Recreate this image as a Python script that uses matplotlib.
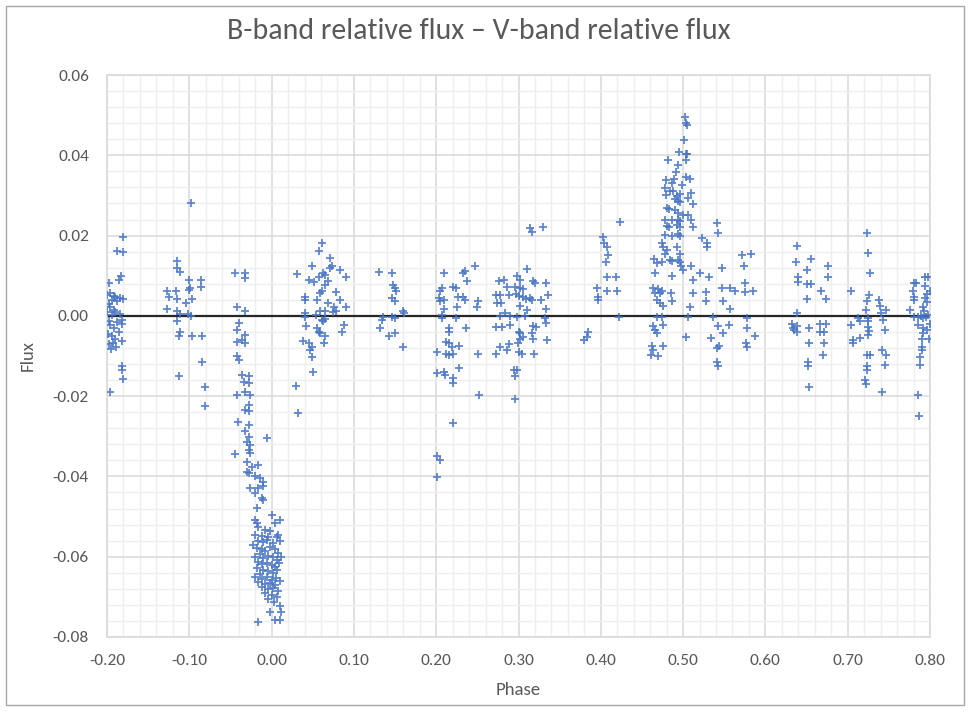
import matplotlib
matplotlib.use("Agg")
import matplotlib.pyplot as plt
from matplotlib.ticker import MultipleLocator, FormatStrFormatter
from matplotlib.patches import Rectangle

plt.rcParams['font.family'] = ['Liberation Sans Narrow', 'Carlito', 'Open Sans', 'DejaVu Sans']

TITLE = "B-band relative flux – V-band relative flux"
XLABEL = "Phase"
YLABEL = "Flux"
x_ticks = [-0.20, -0.10, 0.00, 0.10, 0.20, 0.30, 0.40, 0.50, 0.60, 0.70, 0.80]
y_ticks = [-0.08, -0.06, -0.04, -0.02, 0.00, 0.02, 0.04, 0.06]

# (phase, flux) pairs per observing cluster
cluster_a = [(-0.180, 0.0197), (-0.181, 0.0158), (-0.188, 0.0162), (-0.183, 0.0100), (-0.185, 0.0090),
             (-0.198, 0.0081), (-0.200, 0.0052), (-0.196, 0.0056), (-0.192, 0.0050), (-0.194, 0.0040),
             (-0.198, 0.0030), (-0.190, 0.0046), (-0.188, 0.0036), (-0.196, 0.0022), (-0.192, 0.0015),
             (-0.184, 0.0044), (-0.181, 0.0042), (-0.200, 0.0010), (-0.194, 0.0003), (-0.190, 0.0010),
             (-0.184, 0.0005), (-0.198, -0.0012), (-0.196, -0.0022), (-0.192, -0.0030), (-0.188, -0.0016),
             (-0.182, -0.0010), (-0.199, -0.0045), (-0.194, -0.0050), (-0.190, -0.0058), (-0.186, -0.0040),
             (-0.182, -0.0062), (-0.198, -0.0070), (-0.193, -0.0068), (-0.189, -0.0078), (-0.182, -0.0125),
             (-0.182, -0.0135), (-0.181, -0.0157), (-0.196, -0.0189), (-0.182, -0.0020), (-0.195, -0.0082)]

cluster_b = [(-0.098, 0.0280), (-0.115, 0.0137), (-0.115, 0.0120), (-0.111, 0.0110), (-0.100, 0.0090),
             (-0.086, 0.0090), (-0.086, 0.0071), (-0.100, 0.0065), (-0.099, 0.0069), (-0.116, 0.0063),
             (-0.127, 0.0061), (-0.125, 0.0047), (-0.115, 0.0042), (-0.097, 0.0042), (-0.104, 0.0033),
             (-0.127, 0.0017), (-0.115, 0.0011), (-0.111, 0.0005), (-0.101, 0.0005), (-0.098, 0.0000),
             (-0.115, -0.0013), (-0.111, -0.0039), (-0.113, -0.0050), (-0.097, -0.0049), (-0.084, -0.0049),
             (-0.084, -0.0116), (-0.112, -0.0151), (-0.081, -0.0178), (-0.081, -0.0224)]

cluster_c = [(-0.0445, 0.0106), (-0.0323, 0.0106), (-0.0323, 0.0094), (-0.0424, 0.0021), (-0.0323, 0.0012),
             (-0.040, -0.0018), (-0.042, -0.0035), (-0.032, -0.0047), (-0.036, -0.0060), (-0.042, -0.0064),
             (-0.032, -0.0068), (-0.042, -0.0101), (-0.040, -0.0110), (-0.036, -0.0147), (-0.028, -0.0151),
             (-0.034, -0.0164), (-0.028, -0.0168), (-0.042, -0.0197), (-0.032, -0.0189), (-0.026, -0.0197),
             (-0.028, -0.0222), (-0.032, -0.0234), (-0.028, -0.0238), (-0.041, -0.0264), (-0.028, -0.0272),
             (-0.006, -0.0305), (-0.032, -0.0288), (-0.028, -0.0301), (-0.030, -0.0313), (-0.026, -0.0322),
             (-0.028, -0.0334), (-0.026, -0.0342), (-0.0445, -0.0344), (-0.030, -0.0363), (-0.016, -0.0371),
             (-0.024, -0.0376), (-0.030, -0.0388), (-0.028, -0.0392), (-0.020, -0.0400), (-0.014, -0.0404),
             (-0.010, -0.0413), (-0.010, -0.0425), (-0.026, -0.0429), (-0.016, -0.0429), (-0.012, -0.0454),
             (-0.018, -0.0479), (-0.020, -0.0442), (-0.010, -0.0458), (-0.020, -0.0508),
             (-0.018, -0.0517), (-0.016, -0.0525), (-0.008, -0.0533), (-0.002, -0.0537), (0.006, -0.0550),
             (0.000, -0.0496), (0.010, -0.0508), (0.004, -0.0515), (-0.020, -0.0545), (-0.012, -0.0548),
             (-0.004, -0.0552), (0.008, -0.0545), (-0.016, -0.0560), (-0.010, -0.0563), (-0.006, -0.0558),
             (0.002, -0.0565), (0.010, -0.0560), (-0.022, -0.0570), (-0.018, -0.0578), (-0.012, -0.0580),
             (-0.008, -0.0585), (-0.002, -0.0575), (0.004, -0.0582), (0.008, -0.0590), (-0.014, -0.0592),
             (-0.020, -0.0600), (-0.010, -0.0603), (-0.004, -0.0597), (0.002, -0.0600), (0.006, -0.0607),
             (0.011, -0.0600), (-0.016, -0.0612), (-0.012, -0.0618), (-0.006, -0.0615), (0.000, -0.0620),
             (0.004, -0.0625), (0.009, -0.0615), (-0.018, -0.0628), (-0.010, -0.0632), (-0.004, -0.0635),
             (0.002, -0.0640), (0.007, -0.0632), (-0.014, -0.0642), (-0.020, -0.0650), (-0.012, -0.0655),
             (-0.006, -0.0650), (0.000, -0.0658), (0.005, -0.0652), (0.010, -0.0660), (-0.016, -0.0662),
             (-0.008, -0.0668), (-0.002, -0.0665), (0.004, -0.0670), (-0.012, -0.0675), (-0.004, -0.0680),
             (0.002, -0.0678), (0.008, -0.0685), (-0.008, -0.0690), (0.000, -0.0695), (0.006, -0.0700),
             (-0.004, -0.0705), (0.003, -0.0712), (0.010, -0.0724), (-0.002, -0.0737), (-0.016, -0.0762),
             (0.004, -0.0757), (0.010, -0.0757), (0.012, -0.0738)]

cluster_d = [(0.061, 0.0181), (0.058, 0.0162), (0.071, 0.0143), (0.073, 0.0123), (0.071, 0.0119),
             (0.049, 0.0123), (0.083, 0.0114), (0.031, 0.0104), (0.062, 0.0106), (0.065, 0.0102),
             (0.058, 0.0096), (0.090, 0.0096), (0.045, 0.0090), (0.051, 0.0085), (0.069, 0.0088),
             (0.065, 0.0077), (0.061, 0.0062), (0.059, 0.0058), (0.078, 0.0060), (0.041, 0.0047),
             (0.041, 0.0039), (0.055, 0.0040), (0.083, 0.0040), (0.069, 0.0032), (0.076, 0.0022),
             (0.078, 0.0012), (0.075, 0.0009), (0.091, 0.0022), (0.059, 0.0012), (0.065, 0.0013),
             (0.041, 0.0006), (0.041, -0.0003), (0.054, 0.0002), (0.061, -0.0010), (0.065, -0.0008),
             (0.063, -0.0014), (0.042, -0.0025), (0.088, -0.0022), (0.055, -0.0031), (0.057, -0.0039),
             (0.059, -0.0042), (0.086, -0.0039), (0.065, -0.0050), (0.064, -0.0068), (0.038, -0.0062),
             (0.045, -0.0068), (0.049, -0.0078), (0.047, -0.0085), (0.049, -0.0103), (0.050, -0.0139),
             (0.030, -0.0175), (0.032, -0.0241)]

cluster_e = [(0.131, 0.0110), (0.146, 0.0108), (0.148, 0.0077), (0.150, 0.0069), (0.151, 0.0063),
             (0.146, 0.0044), (0.150, 0.0036), (0.160, 0.0012), (0.161, 0.0006), (0.135, -0.0003),
             (0.134, -0.0011), (0.146, -0.0003), (0.150, -0.0005), (0.132, -0.0031), (0.150, -0.0042),
             (0.143, -0.0049), (0.160, -0.0078)]

cluster_f = [(0.2095, 0.0108), (0.233, 0.0108), (0.235, 0.0112), (0.247, 0.0125), (0.238, 0.0087),
             (0.207, 0.0069), (0.205, 0.0061), (0.221, 0.0072), (0.224, 0.0069), (0.232, 0.0046),
             (0.235, 0.0040), (0.227, 0.0047), (0.203, 0.0044), (0.205, 0.0036), (0.209, 0.0040),
             (0.225, 0.0022), (0.251, 0.0036), (0.249, 0.0022), (0.209, 0.0018), (0.207, 0.0002),
             (0.207, -0.0006), (0.224, -0.0006), (0.215, -0.0031), (0.216, -0.0039), (0.236, -0.0030),
             (0.212, -0.0064), (0.216, -0.0068), (0.219, -0.0077), (0.228, -0.0075), (0.201, -0.0089),
             (0.212, -0.0095), (0.216, -0.0097), (0.221, -0.0096), (0.251, -0.0096), (0.201, -0.0143),
             (0.2095, -0.0139), (0.211, -0.0147), (0.228, -0.0131), (0.220, -0.0155), (0.220, -0.0168),
             (0.252, -0.0197), (0.221, -0.0266), (0.201, -0.0349), (0.201, -0.0401), (0.205, -0.0360)]

cluster_g = [(0.310, 0.0116), (0.298, 0.0100), (0.302, 0.0090), (0.276, 0.0087), (0.282, 0.0090),
             (0.318, 0.0087), (0.320, 0.0081), (0.333, 0.0081), (0.286, 0.0072), (0.296, 0.0072),
             (0.302, 0.0069), (0.306, 0.0067), (0.273, 0.0052), (0.278, 0.0052), (0.288, 0.0052),
             (0.297, 0.0055), (0.300, 0.0050), (0.305, 0.0047), (0.309, 0.0043), (0.314, 0.0045),
             (0.316, 0.0039), (0.336, 0.0052), (0.327, 0.0039), (0.274, 0.0032), (0.279, 0.0032),
             (0.302, 0.0024), (0.310, 0.0014), (0.333, 0.0018), (0.284, 0.0006), (0.278, 0.0000),
             (0.290, 0.0000), (0.298, -0.0002), (0.308, 0.0000), (0.332, -0.0006), (0.333, -0.0017),
             (0.273, -0.0029), (0.280, -0.0029), (0.290, -0.0023), (0.318, -0.0025), (0.321, -0.0029),
             (0.300, -0.0039), (0.302, -0.0043), (0.306, -0.0052), (0.302, -0.0058), (0.317, -0.0043),
             (0.318, -0.0058), (0.335, -0.0060), (0.278, -0.0077), (0.289, -0.0070), (0.286, -0.0085),
             (0.299, -0.0068), (0.301, -0.0091), (0.304, -0.0095), (0.273, -0.0096), (0.319, -0.0096),
             (0.294, -0.0136), (0.298, -0.0136), (0.296, -0.0151), (0.296, -0.0208), (0.314, 0.0218),
             (0.316, 0.0210), (0.330, 0.0222)]

cluster_h = [(0.380, -0.0060), (0.383, -0.0052), (0.385, -0.0039), (0.395, 0.0069), (0.397, 0.0048),
             (0.397, 0.0040), (0.403, 0.0197), (0.404, 0.0181), (0.407, 0.0172), (0.409, 0.0152),
             (0.406, 0.0134), (0.408, 0.0096), (0.418, 0.0096), (0.407, 0.0061), (0.420, 0.0061),
             (0.423, 0.0235), (0.422, -0.0004)]

cluster_i = [(0.502, 0.0495), (0.503, 0.0480), (0.505, 0.0475), (0.501, 0.0438), (0.495, 0.0407),
             (0.503, 0.0403), (0.505, 0.0403), (0.503, 0.0388), (0.482, 0.0388), (0.494, 0.0376),
             (0.491, 0.0359), (0.504, 0.0347), (0.508, 0.0341), (0.479, 0.0339), (0.486, 0.0332),
             (0.489, 0.0340), (0.499, 0.0326), (0.478, 0.0318), (0.484, 0.0312), (0.488, 0.0311),
             (0.492, 0.0299), (0.496, 0.0304), (0.479, 0.0301), (0.490, 0.0292), (0.494, 0.0286),
             (0.496, 0.0284), (0.510, 0.0305), (0.506, 0.0293), (0.512, 0.0279), (0.481, 0.0268),
             (0.483, 0.0265), (0.490, 0.0263), (0.494, 0.0256), (0.500, 0.0251), (0.506, 0.0251),
             (0.478, 0.0239), (0.486, 0.0239), (0.494, 0.0240), (0.496, 0.0236), (0.510, 0.0239),
             (0.480, 0.0224), (0.483, 0.0222), (0.492, 0.0226), (0.496, 0.0222), (0.512, 0.0222),
             (0.478, 0.0202), (0.486, 0.0199), (0.494, 0.0205), (0.496, 0.0199), (0.5225, 0.0195),
             (0.529, 0.0181), (0.529, 0.0172), (0.5415, 0.0232), (0.543, 0.0207), (0.474, 0.0182),
             (0.476, 0.0172), (0.480, 0.0164), (0.478, 0.0154), (0.492, 0.0172), (0.496, 0.0154),
             (0.484, 0.0139), (0.486, 0.0137), (0.494, 0.0138), (0.496, 0.0135), (0.465, 0.0141),
             (0.468, 0.0131), (0.474, 0.0133), (0.498, 0.0123), (0.500, 0.0114), (0.510, 0.0123),
             (0.466, 0.0108), (0.486, 0.0100), (0.521, 0.0108), (0.532, 0.0096), (0.512, 0.0090),
             (0.547, 0.0119), (0.464, 0.0069), (0.470, 0.0066), (0.474, 0.0062), (0.466, 0.0057),
             (0.472, 0.0057), (0.485, 0.0057), (0.512, 0.0057), (0.528, 0.0059), (0.486, 0.0038),
             (0.528, 0.0036), (0.468, 0.0040), (0.472, 0.0032), (0.476, 0.0025), (0.547, 0.0070),
             (0.557, 0.0070), (0.563, 0.0061), (0.575, 0.0081), (0.585, 0.0062), (0.575, 0.0059),
             (0.572, 0.0152), (0.583, 0.0154), (0.574, 0.0125), (0.548, 0.0036), (0.557, 0.0016),
             (0.508, 0.0022), (0.506, -0.0003), (0.468, -0.0003), (0.474, -0.0003), (0.536, -0.0003),
             (0.578, -0.0006), (0.463, -0.0025), (0.466, -0.0035), (0.468, -0.0043), (0.476, -0.0022),
             (0.543, -0.0025), (0.556, -0.0022), (0.549, -0.0042), (0.578, -0.0031), (0.504, -0.0053),
             (0.534, -0.0056), (0.587, -0.0049), (0.462, -0.0075), (0.476, -0.0075), (0.464, -0.0085),
             (0.461, -0.0097), (0.470, -0.0101), (0.544, -0.0075), (0.5415, -0.0081), (0.577, -0.0068),
             (0.578, -0.0077), (0.5415, -0.0114), (0.543, -0.0126)]

cluster_j = [(0.639, 0.0174), (0.637, 0.0134), (0.655, 0.0141), (0.650, 0.0114), (0.676, 0.0123),
             (0.676, 0.0096), (0.640, 0.0096), (0.640, 0.0085), (0.650, 0.0079), (0.655, 0.0079),
             (0.668, 0.0061), (0.674, 0.0042), (0.650, 0.0042), (0.639, 0.0006), (0.632, -0.0020),
             (0.634, -0.0030), (0.638, -0.0025), (0.639, -0.0040), (0.635, -0.0035), (0.653, -0.0031),
             (0.666, -0.0020), (0.674, -0.0020), (0.666, -0.0039), (0.671, -0.0039), (0.653, -0.0067),
             (0.671, -0.0068), (0.670, -0.0097), (0.652, -0.0114), (0.652, -0.0124), (0.653, -0.0178)]

cluster_k = [(0.724, 0.0207), (0.725, 0.0156), (0.727, 0.0108), (0.704, 0.0061), (0.726, 0.0052),
             (0.724, 0.0036), (0.722, 0.0014), (0.7385, 0.0040), (0.739, 0.0024), (0.741, 0.0006),
             (0.747, 0.0014), (0.704, -0.0022), (0.713, -0.0006), (0.715, -0.0014), (0.725, -0.0006),
             (0.725, -0.0014), (0.725, -0.0027), (0.726, -0.0037), (0.725, -0.0048), (0.743, -0.0011),
             (0.745, -0.0035), (0.706, -0.0060), (0.707, -0.0068), (0.715, -0.0056), (0.727, -0.0097),
             (0.724, -0.0097), (0.742, -0.0085), (0.747, -0.0097), (0.745, -0.0122), (0.723, -0.0126),
             (0.723, -0.0136), (0.721, -0.0160), (0.722, -0.0170), (0.742, -0.0189)]

cluster_l = [(0.780, 0.0081), (0.783, 0.0081), (0.794, 0.0098), (0.797, 0.0096), (0.779, 0.0061),
             (0.780, 0.0048), (0.780, 0.0040), (0.794, 0.0075), (0.796, 0.0055), (0.794, 0.0045),
             (0.796, 0.0035), (0.800, 0.0062), (0.776, 0.0014), (0.792, 0.0022), (0.793, 0.0011),
             (0.795, -0.0003), (0.781, -0.0003), (0.785, -0.0003), (0.789, 0.0000), (0.791, -0.0006),
             (0.798, 0.0002), (0.786, -0.0022), (0.791, -0.0031), (0.796, -0.0035), (0.800, -0.0020),
             (0.792, -0.0043), (0.790, -0.0058), (0.799, -0.0058), (0.790, -0.0077), (0.790, -0.0085),
             (0.788, -0.0103), (0.788, -0.0122), (0.786, -0.0197), (0.787, -0.0249)]

clusters = [cluster_a, cluster_b, cluster_c, cluster_d, cluster_e, cluster_f,
            cluster_g, cluster_h, cluster_i, cluster_j, cluster_k, cluster_l]
phase = [p for c in clusters for p, _ in c]
flux = [f for c in clusters for _, f in c]

W, H = 973, 718
fig = plt.figure(figsize=(W / 100, H / 100), dpi=100)
ax = fig.add_axes([107 / W, 1 - 637 / H, (930 - 107) / W, (637 - 75) / H])

ax.set_xlim(-0.2, 0.8)
ax.set_ylim(-0.08, 0.06)
ax.xaxis.set_major_locator(MultipleLocator(0.1))
ax.xaxis.set_minor_locator(MultipleLocator(0.02))
ax.yaxis.set_major_locator(MultipleLocator(0.02))
ax.yaxis.set_minor_locator(MultipleLocator(0.004))
ax.set_xticks(x_ticks)
ax.set_yticks(y_ticks)
ax.xaxis.set_major_formatter(FormatStrFormatter('%.2f'))
ax.yaxis.set_major_formatter(FormatStrFormatter('%.2f'))

ax.grid(which='major', color='#D9D9D9', linewidth=1.1)
ax.grid(which='minor', color='#EFEFEF', linewidth=1.0)
ax.set_axisbelow(True)
for s in ax.spines.values():
    s.set_color('#D9D9D9')
    s.set_linewidth(1.1)
ax.tick_params(which='both', length=0)
ax.tick_params(axis='both', labelsize=12.5, colors='#595959')
ax.tick_params(axis='x', pad=12)
ax.tick_params(axis='y', pad=13)

ax.axhline(0, color='#262626', linewidth=1.6, zorder=2)

ax.scatter(phase, flux, marker='+', s=34, linewidths=1.3, color='#4472C4', alpha=0.85, zorder=3)

ax.set_xlabel(XLABEL, fontsize=13.5, color='#595959', labelpad=10)
ax.set_ylabel(YLABEL, fontsize=13.5, color='#595959', labelpad=12)
fig.text(479 / W, 1 - 31 / H, TITLE, fontsize=21.5, color='#595959', ha='center', va='center')

fig.patches.append(Rectangle((6 / W, 1 - 705 / H), (964 - 6) / W, (705 - 6) / H,
                             transform=fig.transFigure, fill=False, edgecolor='#A6A6A6', linewidth=1.0))

fig.savefig('out.png', dpi=100)
